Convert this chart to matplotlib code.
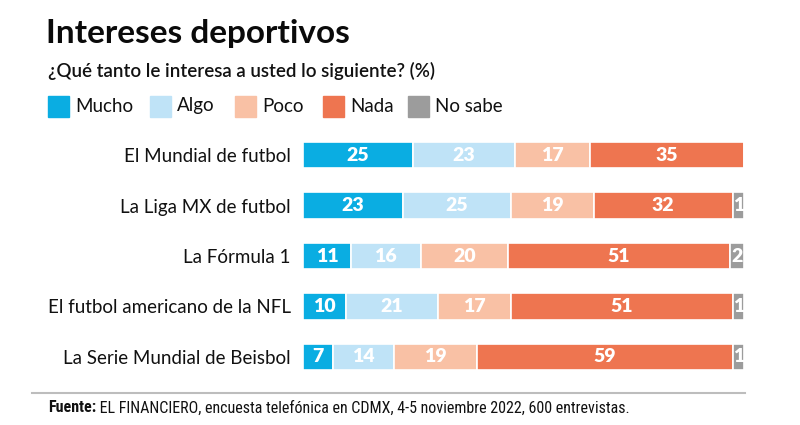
import numpy as np
import matplotlib.pyplot as plt
from matplotlib.patches import Rectangle
from matplotlib.lines import Line2D

# data
categories = ['El Mundial de futbol', 'La Liga MX de futbol', 'La Fórmula 1',
              'El futbol americano de la NFL', 'La Serie Mundial de Beisbol']
series = ['Mucho', 'Algo', 'Poco', 'Nada', 'No sabe']
mucho = [25, 23, 11, 10, 7]
algo = [23, 25, 16, 21, 14]
poco = [17, 19, 20, 17, 19]
nada = [35, 32, 51, 51, 59]
no_sabe = [0, 1, 2, 1, 1]
colors = ['#0aade2', '#bfe3f7', '#f9c1a5', '#ee7550', '#9c9c9c']

title = 'Intereses deportivos'
subtitle = '¿Qué tanto le interesa a usted lo siguiente? (%)'
source_bold = 'Fuente:'
source_rest = ' EL FINANCIERO, encuesta telefónica en CDMX, 4-5 noviembre 2022, 600 entrevistas.'

plt.rcParams['font.family'] = ['Lato', 'DejaVu Sans']

W, H = 800, 425
fig = plt.figure(figsize=(8, 4.25), dpi=100)

def fx(px):
    return px / W

def fy(py):
    return 1 - py / H

ax = fig.add_axes([fx(303), fy(382), fx(744) - fx(303), fy(130) - fy(382)])
y = np.arange(len(categories))
values = np.array([mucho, algo, poco, nada, no_sabe], dtype=float)

# small segments get a minimum visible width, each row fills the full width
shown = values.copy()
shown[4] = np.where(values[4] > 0, np.maximum(values[4] * 1.6, 2.6), 0)
shown = shown / shown.sum(axis=0) * 100

left = np.zeros(len(categories))
for vals, disp, col in zip(values, shown, colors):
    ax.barh(y, disp, left=left, height=0.52, color=col,
            edgecolor='white', linewidth=1.2)
    for yi, (l, v, d) in enumerate(zip(left, vals, disp)):
        if v > 0:
            ax.text(l + d / 2, yi, f'{int(v)}', ha='center', va='center',
                    color='white', fontsize=14, fontweight='heavy')
    left += disp

ax.set_xlim(0, 100)
ax.set_ylim(len(categories) - 0.5, -0.5)
ax.set_yticks(y)
ax.set_yticklabels(categories, fontsize=13.5, color='#111111')
ax.tick_params(axis='y', length=0, pad=9)
ax.set_xticks([])
for s in ax.spines.values():
    s.set_visible(False)

# titles
fig.text(fx(46), fy(34), title, fontsize=24, fontweight='bold',
         ha='left', va='center', color='#0a0a0a')
fig.text(fx(48), fy(71), subtitle, fontsize=13.5, fontweight='semibold',
         ha='left', va='center', color='#111111')

# legend
leg_x = [48, 150, 235, 323, 408]
for lx, name, col in zip(leg_x, series, colors):
    fig.patches.append(Rectangle((fx(lx), fy(117)), fx(21), fy(96) - fy(117),
                                 transform=fig.transFigure, color=col))
    fig.text(fx(lx + 27), fy(106), name, fontsize=13.5, ha='left',
             va='center', color='#111111')

# footer
fig.add_artist(Line2D([fx(32), fx(745)], [fy(393), fy(393)],
                      transform=fig.transFigure, color='#bdbdbd', lw=1.5))
foot_family = ['Liberation Sans Narrow', 'Roboto Condensed', 'Roboto']
t = fig.text(fx(48), fy(408), source_bold, fontsize=11.5, fontweight='bold',
             ha='left', va='center', color='#111111', family=foot_family)
fig.canvas.draw()
bb = t.get_window_extent()
fig.text(bb.x1 / W, fy(408), source_rest, fontsize=11.5, ha='left',
         va='center', color='#111111', family=foot_family)

fig.savefig('out.png', dpi=100, facecolor='white')
